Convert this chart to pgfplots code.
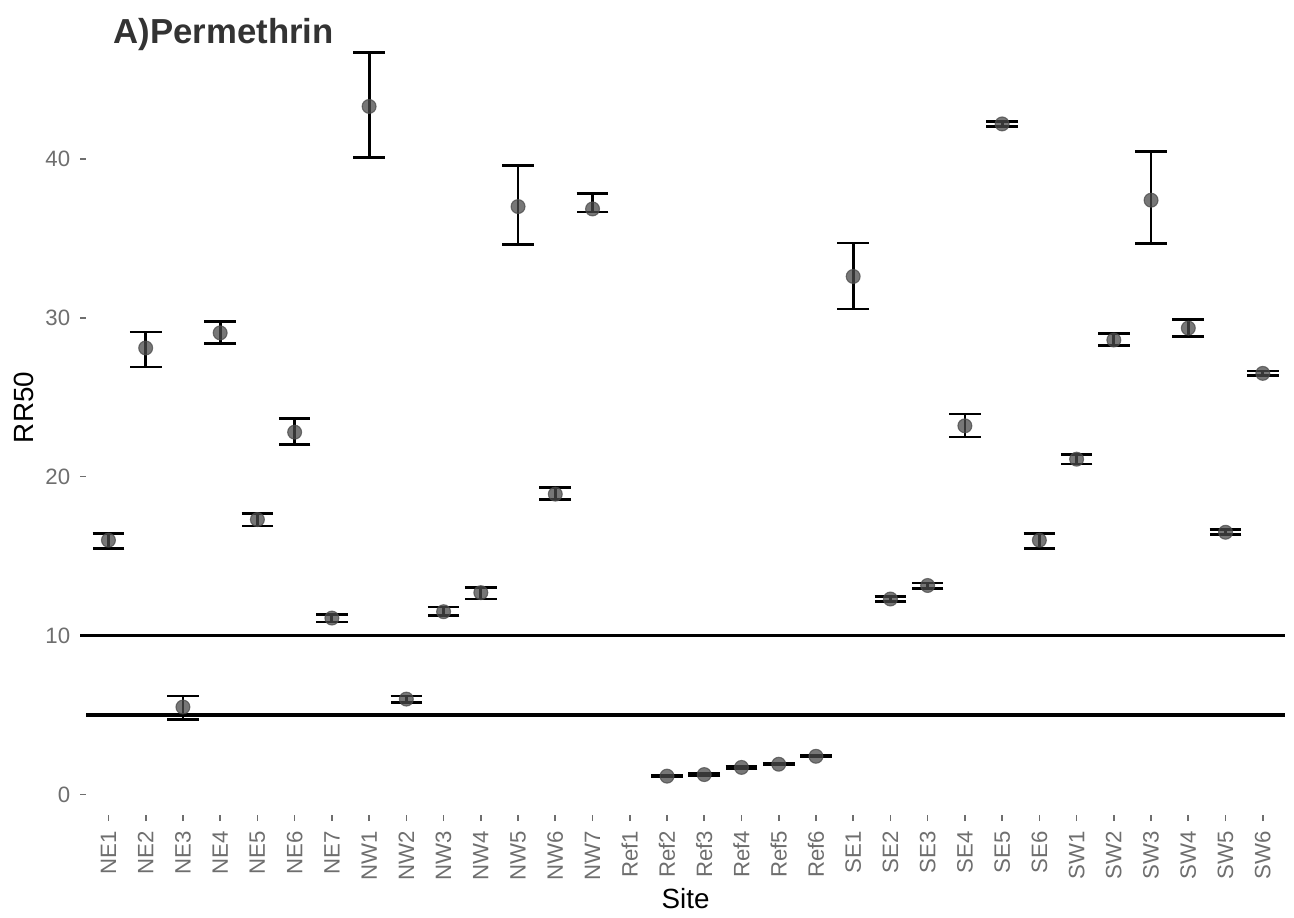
\documentclass[border=0pt]{standalone}
\usepackage{pgfplots}
\pgfplotsset{compat=1.18}
\usepackage{pgfplotstable}
\usepackage{fontspec}
\setmainfont{Liberation Sans}
\definecolor{tickgray}{HTML}{6E6E6E}
\definecolor{dotgray}{HTML}{4A4A4A}
\pgfplotstableread{
x y ep em
0 16.0 0.4 0.5
1 28.1 1.0 1.2
2 5.5 0.7 0.8
3 29.05 0.7 0.65
4 17.3 0.4 0.4
5 22.8 0.85 0.8
6 11.1 0.2 0.25
7 43.3 3.4 3.2
8 6.0 0.2 0.2
9 11.5 0.3 0.25
10 12.7 0.3 0.4
11 37.0 2.6 2.4
12 18.9 0.4 0.35
13 36.85 0.95 0.2
15 1.15 0.05 0.05
16 1.25 0.05 0.05
17 1.7 0.05 0.05
18 1.9 0.05 0.05
19 2.4 0.05 0.05
20 32.6 2.1 2.05
21 12.3 0.15 0.15
22 13.15 0.15 0.2
23 23.2 0.75 0.7
24 42.2 0.15 0.15
25 16.0 0.4 0.5
26 21.1 0.3 0.3
27 28.6 0.4 0.35
28 37.4 3.05 2.75
29 29.35 0.55 0.55
30 16.5 0.15 0.15
31 26.5 0.15 0.15
}\rrdata
\begin{document}
\begin{tikzpicture}
\begin{axis}[
  name=ax,
  scale only axis,
  width=431.6pt, height=293.4pt,
  xmin=-0.6, xmax=31.6,
  ymin=-1.3, ymax=50,
  axis line style={draw=none},
  xtick={0,...,31},
  xticklabels={NE1,NE2,NE3,NE4,NE5,NE6,NE7,NW1,NW2,NW3,NW4,NW5,NW6,NW7,Ref1,Ref2,Ref3,Ref4,Ref5,Ref6,SE1,SE2,SE3,SE4,SE5,SE6,SW1,SW2,SW3,SW4,SW5,SW6},
  ytick={0,10,20,30,40},
  tick align=outside,
  major tick length=2.2pt,
  tick style={tickgray, line width=0.6pt},
  xtick pos=bottom, ytick pos=left,
  xticklabel style={rotate=90, anchor=east, font=\fontsize{8}{9}\selectfont, text=tickgray},
  yticklabel style={font=\fontsize{8}{9}\selectfont, text=tickgray},
  /pgf/number format/assume math mode=true,
  xlabel={Site}, ylabel={RR50},
  xlabel style={at={(axis description cs:0.5,-0.102)}, anchor=center, font=\fontsize{10}{12}\selectfont},
  ylabel style={at={(axis description cs:-0.052,0.5)}, anchor=center, font=\fontsize{10}{12}\selectfont},
  clip=false,
]
\addplot[black, line width=1.1pt] coordinates {(-0.76,10) (31.6,10)};
\addplot[black, line width=1.1pt] coordinates {(-0.6,5) (31.6,5)};
\addplot[only marks, mark=*, mark size=2.5pt, mark options={fill=dotgray, draw=dotgray, fill opacity=0.75, draw opacity=0.75}]
  table[x=x, y=y]{\rrdata};
\addplot[draw=none, mark=none, forget plot,
  error bars/.cd, y dir=both, y explicit,
  error bar style={draw=black, line width=1pt},
  error mark options={rotate=90, draw=black, mark size=5.7pt, line width=1pt}]
  table[x=x, y=y, y error plus=ep, y error minus=em]{\rrdata};
\node[anchor=west, inner sep=0pt, font=\fontsize{12.5}{14}\selectfont\bfseries, text=black!80] at (axis cs:0.13,47.85) {A)Permethrin};
\end{axis}
\pgfresetboundingbox
\path[use as bounding box] ([xshift=-31pt,yshift=-36.7pt]ax.south west) rectangle ([xshift=3.2pt]ax.north east);
\end{tikzpicture}
\end{document}
